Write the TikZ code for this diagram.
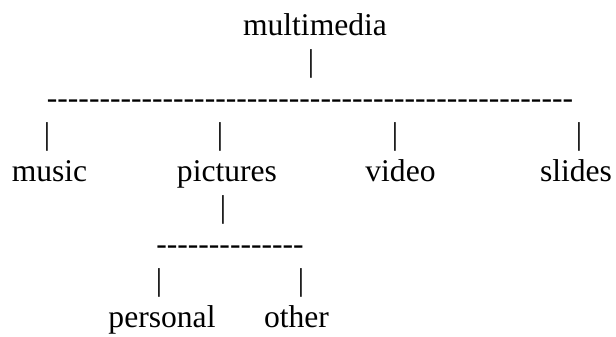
\documentclass[tikz,border=0pt]{standalone}
\usepackage{fontspec}
% plain serif face, no TeX ligatures so that runs of hyphens stay hyphens
\newfontfamily\artfont{Liberation Serif}[Ligatures=TeXOff]
\begin{document}
\begin{tikzpicture}[x=0.75pt, y=-0.75pt,
  txt/.style={anchor=base, inner sep=0pt, outer sep=0pt,
    font=\artfont\fontsize{23.7}{28}\selectfont}]
\useasboundingbox (0,0) rectangle (616,336);
% row baselines: 35 + 36.5 k
\node[txt] (root)   at (315,35)    {multimedia};
\node[txt] (rbar)   at (311,71.5)  {|};
\node[txt] (rline)  at (310,108)   {--------------------------------------------------};
\node[txt] (bmusic) at (47,144.5)  {|};
\node[txt] (bpict)  at (220,144.5) {|};
\node[txt] (bvideo) at (395,144.5) {|};
\node[txt] (bslide) at (579,144.5) {|};
\node[txt] (music)  at (49.5,181)  {music};
\node[txt] (pict)   at (227,181)   {pictures};
\node[txt] (video)  at (400.5,181) {video};
\node[txt] (slides) at (576,181)   {slides};
\node[txt] (pbar)   at (223,217.5) {|};
\node[txt] (pline)  at (230,254)   {--------------};
\node[txt] (bpers)  at (159,290.5) {|};
\node[txt] (bother) at (301,290.5) {|};
\node[txt] (pers)   at (162,327)   {personal};
\node[txt] (other)  at (296.5,327) {other};
\end{tikzpicture}
\end{document}
